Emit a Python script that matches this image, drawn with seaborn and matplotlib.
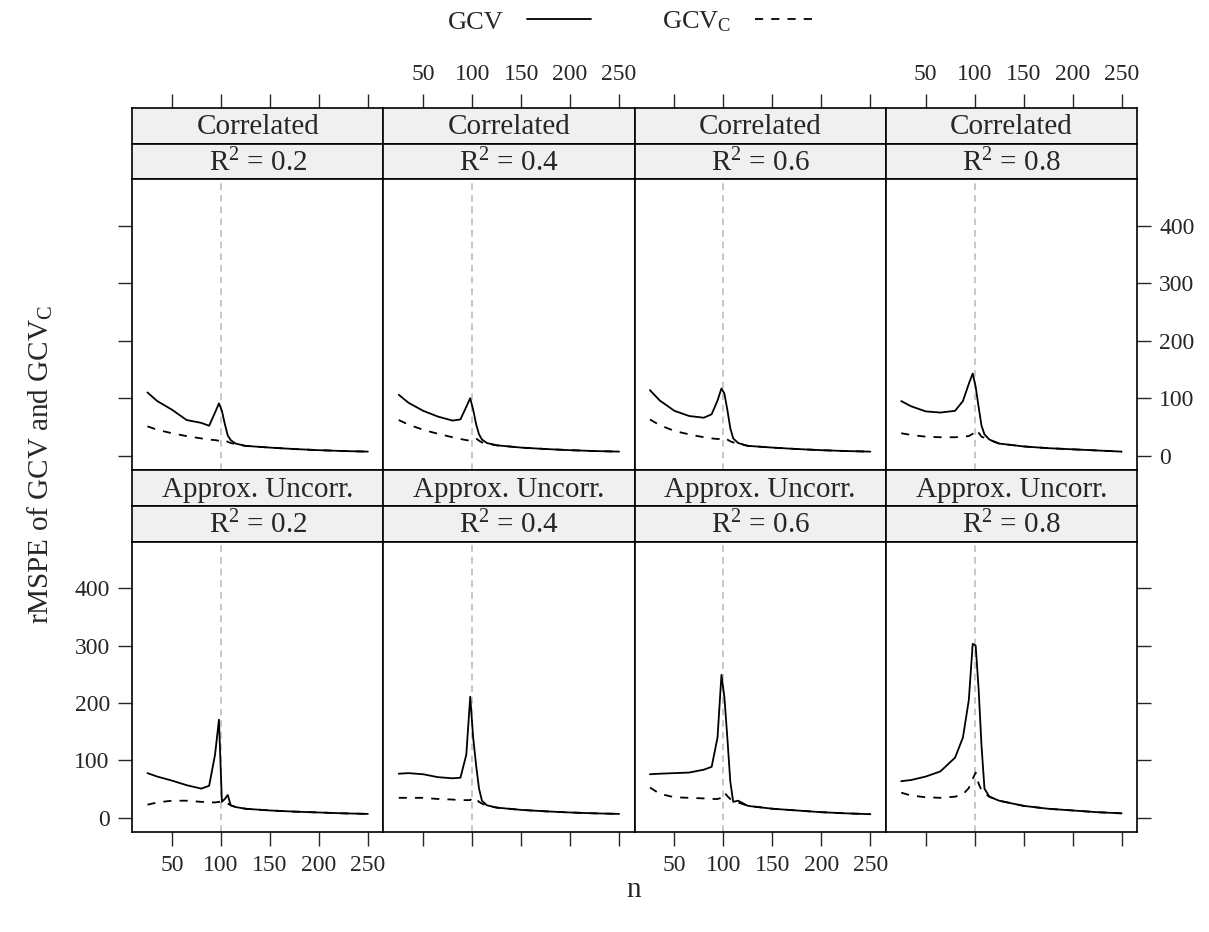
import matplotlib
matplotlib.use("Agg")
import matplotlib.pyplot as plt
from matplotlib.lines import Line2D
import numpy as np
import pandas as pd
import seaborn as sns

# sample sizes (shared by every panel)
n_vals = [25, 35, 50, 65, 80, 88, 94, 98, 101, 104, 107, 110, 115, 125, 150, 175, 200, 225, 250]

# Correlated design
corr_02_gcv = [110, 95, 80, 62, 57, 52, 75, 91, 78, 55, 35, 27, 21, 17, 14, 11.5, 9.5, 8, 7]
corr_02_gcvc = [51, 45, 39, 34, 30, 28, 27, 26, 28, 27, 24, 22, 20, 17, 14, 11.5, 9.5, 8, 7]
corr_04_gcv = [106, 92, 78, 68, 61, 63, 85, 100, 80, 55, 37, 28, 22, 18, 14, 11.5, 9.5, 8, 7]
corr_04_gcvc = [62, 54, 45, 38, 32, 29, 27, 26, 29, 30, 26, 23, 21, 18, 14, 11.5, 9.5, 8, 7]
corr_06_gcv = [114, 96, 78, 69, 66, 72, 96, 117, 108, 80, 48, 30, 22, 17, 14, 11.5, 9.5, 8, 7]
corr_06_gcvc = [63, 53, 43, 37, 32, 30, 29, 29, 31, 28, 25, 23, 21, 17, 14, 11.5, 9.5, 8, 7]
corr_08_gcv = [95, 86, 77, 75, 78, 95, 125, 143, 120, 85, 52, 37, 28, 21, 16, 13, 11, 9, 7]
corr_08_gcvc = [39, 36, 33, 32, 32, 33, 34, 38, 45, 40, 33, 31, 27, 21, 16, 13, 11, 9, 7]

# Approx. uncorrelated design
unc_02_gcv = [78, 72, 65, 57, 51, 56, 110, 171, 28, 33, 40, 22, 19, 16, 13, 11, 9.5, 8, 7]
unc_02_gcvc = [23, 27, 30, 30, 28, 27, 27, 28, 28, 28, 25, 22, 19, 16, 13, 11, 9.5, 8, 7]
unc_04_gcv = [77, 78, 76, 71, 69, 70, 110, 211, 140, 92, 51, 30, 22, 18, 14, 11.5, 9.5, 8, 7]
unc_04_gcvc = [35, 35, 35, 33, 32, 31, 31, 31, 36, 33, 28, 25, 21, 18, 14, 11.5, 9.5, 8, 7]
unc_06_gcv = [76, 77, 78, 79, 84, 89, 140, 249, 210, 140, 64, 28, 30, 21, 16, 13, 10, 8, 6.5]
unc_06_gcvc = [53, 42, 36, 35, 34, 33, 33, 35, 44, 38, 33, 30, 27, 21, 16, 13, 10, 8, 6.5]
unc_08_gcv = [64, 66, 72, 81, 105, 140, 205, 303, 300, 225, 125, 51, 37, 30, 21, 16, 13, 10, 8]
unc_08_gcvc = [44, 39, 36, 35, 37, 41, 52, 68, 79, 60, 48, 43, 37, 30, 21, 16, 13, 10, 8]

designs = ["Correlated", "Approx. Uncorr."]
r2_levels = ["0.2", "0.4", "0.6", "0.8"]
x_ticks = [50, 100, 150, 200, 250]
y_ticks = [0, 100, 200, 300, 400]

panels = {
    ("Correlated", "0.2"): (corr_02_gcv, corr_02_gcvc),
    ("Correlated", "0.4"): (corr_04_gcv, corr_04_gcvc),
    ("Correlated", "0.6"): (corr_06_gcv, corr_06_gcvc),
    ("Correlated", "0.8"): (corr_08_gcv, corr_08_gcvc),
    ("Approx. Uncorr.", "0.2"): (unc_02_gcv, unc_02_gcvc),
    ("Approx. Uncorr.", "0.4"): (unc_04_gcv, unc_04_gcvc),
    ("Approx. Uncorr.", "0.6"): (unc_06_gcv, unc_06_gcvc),
    ("Approx. Uncorr.", "0.8"): (unc_08_gcv, unc_08_gcvc),
}

rows = []
for (design, r2), (gcv, gcvc) in panels.items():
    for n, a, b in zip(n_vals, gcv, gcvc):
        rows.append({"design": design, "r2": r2, "n": n, "method": "GCV", "rmspe": a})
        rows.append({"design": design, "r2": r2, "n": n, "method": "GCV_C", "rmspe": b})
df = pd.DataFrame(rows)

sns.set_style("ticks")
plt.rcParams["font.family"] = ["Liberation Serif", "DejaVu Serif"]
plt.rcParams["mathtext.fontset"] = "custom"
plt.rcParams["mathtext.rm"] = "Liberation Serif"
plt.rcParams["mathtext.it"] = "Liberation Serif:italic"
plt.rcParams["mathtext.bf"] = "Liberation Serif:bold"

W, H = 1209, 932
fig = plt.figure(figsize=(W / 100, H / 100), dpi=100)


def fbox(x0, y0, x1, y1):
    return [x0 / W, 1 - y1 / H, (x1 - x0) / W, (y1 - y0) / H]


col_edges = [132, 383.3, 634.5, 885.8, 1137]
row_tops = [107.7, 470]
strip_h = 35.8
panel_h = 290.7
xlim = (9.25, 265.75)
ylim = (-25, 481)
strip_bg = "#F0F0F0"
lw_box = 1.2

for r, design in enumerate(designs):
    for c, r2 in enumerate(r2_levels):
        x0, x1 = col_edges[c], col_edges[c + 1]
        top = row_tops[r]
        s1 = fig.add_axes(fbox(x0, top, x1, top + strip_h))
        s2 = fig.add_axes(fbox(x0, top + strip_h, x1, top + 2 * strip_h))
        ax = fig.add_axes(fbox(x0, top + 2 * strip_h, x1, top + 2 * strip_h + panel_h))

        for s, label in ((s1, design), (s2, r"R$^2$ = " + r2)):
            s.set_facecolor(strip_bg)
            s.set_xlim(xlim)
            s.set_yticks([])
            s.set_xticks([])
            for sp in s.spines.values():
                sp.set_linewidth(lw_box)
                sp.set_color("black")
            s.text(0.5, 0.45, label, transform=s.transAxes, ha="center", va="center", fontsize=21)

        # top axis ticks sit above the strips
        if r == 0:
            s1.set_xticks(x_ticks)
            s1.xaxis.tick_top()
            s1.tick_params(axis="x", direction="out", length=10, width=1, labelsize=17, pad=6,
                           labeltop=(c in (1, 3)))

        sub = df[(df["design"] == design) & (df["r2"] == r2)]
        ax.axvline(100, color="#BEBEBE", linestyle=(0, (4, 3)), linewidth=1.2, zorder=0)
        sns.lineplot(data=sub, x="n", y="rmspe", style="method", color="black", linewidth=1.3,
                     dashes={"GCV": "", "GCV_C": (4.5, 4.5)}, legend=False, ax=ax)
        ax.set_xlim(xlim)
        ax.set_ylim(ylim)
        ax.set_xlabel("")
        ax.set_ylabel("")
        for sp in ax.spines.values():
            sp.set_visible(True)
            sp.set_linewidth(lw_box)
            sp.set_color("black")

        ax.set_xticks(x_ticks)
        ax.set_yticks(y_ticks)
        ax.tick_params(direction="out", length=10, width=1, labelsize=17, pad=6)
        if r == 1:
            ax.tick_params(axis="x", bottom=True, labelbottom=(c in (0, 2)))
        else:
            ax.tick_params(axis="x", bottom=False, labelbottom=False)
        if c == 0:
            ax.tick_params(axis="y", left=True, labelleft=(r == 1), right=False, labelright=False)
        elif c == 3:
            ax.tick_params(axis="y", left=False, labelleft=False, right=True, labelright=(r == 0))
        else:
            ax.tick_params(axis="y", left=False, labelleft=False)

fig.text(634 / W, 1 - 890 / H, "n", ha="center", va="center", fontsize=21)
fig.text(40 / W, 1 - 465 / H, r"rMSPE of GCV and GCV$_\mathrm{C}$", rotation=90,
         ha="center", va="center", fontsize=21)

handles = [Line2D([], [], color="black", linewidth=1.3),
           Line2D([], [], color="black", linewidth=1.3, linestyle=(0, (4.5, 4.5)))]
fig.legend(handles, ["GCV", r"GCV$_\mathrm{C}$"], loc="center", bbox_to_anchor=(633 / W, 1 - 22 / H),
           ncol=2, frameon=False, markerfirst=False, fontsize=19, handlelength=2.4,
           columnspacing=2.7, handletextpad=0.9)

fig.savefig("out.png", dpi=100)
